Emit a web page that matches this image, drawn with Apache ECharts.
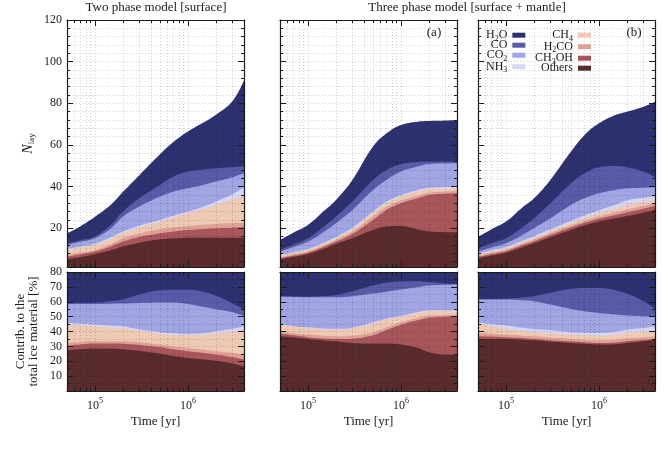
<!DOCTYPE html>
<html>
<head>
<meta charset="utf-8">
<title>Ice layers</title>
<script src="https://cdn.jsdelivr.net/npm/echarts@6/dist/echarts.min.js"></script>
<style>
  html, body { margin: 0; padding: 0; background: #fff; }
  #chart { width: 668px; height: 452px; }
</style>
</head>
<body>
<div id="chart"></div>
<script>
// time grid [yr]
var times = [5e4, 7e4, 1e5, 1.5e5, 2e5, 3e5, 5e5, 7e5, 1e6, 1.5e6, 2e6, 3e6, 4e6];
// stacking order, bottom to top
var species = ['Others', 'CH3OH', 'H2CO', 'CH4', 'NH3', 'CO2', 'CO', 'H2O'];
var speciesColors = ['#5a2b2d', '#a8565b', '#dea196', '#eec9b3', '#d4d6f2', '#a1a5e3', '#585ca8', '#2e3170'];

// N_lay, two phase model (rows follow `species`)
var nlayTwoPhase = [
  [5.1, 6.2, 7.5, 9.6, 11.2, 13.1, 14.7, 15.2, 15.5, 15.5, 15.5, 15.5, 15.5],
  [1.3, 1.3, 1.3, 1.8, 2.4, 2.7, 2.9, 3.3, 3.7, 4.2, 4.5, 4.8, 5.0],
  [0.8, 0.7, 0.8, 1.2, 1.6, 1.7, 1.9, 1.9, 1.9, 2.0, 2.1, 2.2, 2.2],
  [2.4, 2.6, 2.4, 2.4, 2.4, 2.8, 3.7, 4.8, 6.1, 7.7, 9.1, 11.3, 13.3],
  [0.5, 0.5, 0.6, 0.8, 0.8, 1.0, 0.8, 0.8, 0.8, 1.2, 1.6, 2.5, 3.7],
  [1.9, 2.2, 2.6, 4.3, 7.2, 9.1, 11.2, 11.6, 11.2, 10.3, 9.6, 8.2, 6.7],
  [0.8, 0.8, 0.8, 1.8, 2.4, 4.0, 5.6, 7.2, 8.0, 7.3, 6.4, 4.8, 3.2],
  [4.7, 6.7, 9.5, 9.6, 9.5, 11.1, 14.7, 16.7, 19.3, 22.8, 25.7, 31.7, 41.4]
];
// N_lay, three phase model (a)
var nlayThreeA = [
  [5.1, 6.3, 7.7, 10.3, 12.5, 15.2, 19.2, 20.8, 21.1, 19.5, 18.4, 18.1, 18.1],
  [0.5, 0.6, 0.6, 0.9, 1.1, 2.1, 4.8, 8.0, 10.9, 14.9, 17.6, 18.5, 18.7],
  [0.5, 0.5, 0.6, 0.6, 0.8, 1.0, 1.6, 1.4, 1.3, 1.2, 1.1, 1.1, 1.2],
  [0.6, 0.7, 0.7, 0.8, 0.8, 1.2, 1.6, 1.8, 1.9, 2.0, 1.6, 1.3, 1.2],
  [0.5, 0.5, 0.5, 0.6, 0.6, 0.7, 0.8, 0.8, 0.8, 0.7, 0.7, 0.8, 0.8],
  [1.6, 2.4, 3.5, 5.3, 6.6, 8.6, 10.4, 10.4, 11.2, 11.3, 11.5, 11.3, 11.2],
  [0.8, 1.2, 1.6, 2.5, 3.2, 4.0, 4.8, 4.8, 3.5, 2.2, 1.1, 0.9, 0.8],
  [4.8, 5.8, 6.4, 7.5, 8.0, 10.4, 16.0, 17.6, 18.9, 19.4, 19.5, 19.7, 20.0]
];
// N_lay, three phase model (b)
var nlayThreeB = [
  [5.6, 6.9, 8.3, 10.9, 12.8, 15.7, 19.2, 21.3, 23.2, 24.8, 25.9, 27.5, 28.8],
  [0.6, 0.7, 0.7, 0.9, 1.0, 1.1, 1.2, 1.3, 1.4, 1.6, 1.7, 1.9, 2.0],
  [0.6, 0.6, 0.7, 0.8, 0.8, 0.9, 1.0, 1.0, 1.2, 1.2, 1.4, 1.4, 1.5],
  [0.7, 0.8, 0.7, 0.7, 0.6, 0.7, 1.0, 1.3, 1.4, 1.8, 2.2, 1.8, 1.3],
  [0.4, 0.5, 0.6, 0.7, 1.0, 1.1, 1.2, 1.3, 1.5, 1.9, 2.2, 2.0, 1.9],
  [0.9, 1.3, 1.8, 2.8, 3.8, 5.3, 7.6, 8.2, 8.1, 7.1, 5.8, 4.9, 4.2],
  [1.6, 2.0, 2.4, 3.7, 4.8, 7.2, 10.4, 12.0, 12.5, 11.5, 10.1, 7.7, 4.8],
  [5.4, 6.7, 8.0, 9.5, 9.6, 11.2, 15.2, 18.4, 21.1, 24.5, 26.7, 31.2, 36.3]
];
// contribution to the total ice material [%]
var pctTwoPhase = [
  [27.5, 28, 28.5, 28.5, 28, 27, 25, 23.5, 22.2, 21.2, 20.3, 18.5, 16.6],
  [3.0, 3.3, 3.4, 3.4, 3.8, 4.0, 4.6, 4.5, 4.5, 4.3, 4.1, 4.3, 4.5],
  [2.0, 1.7, 1.5, 1.5, 1.6, 1.8, 1.6, 2.0, 2.2, 2.3, 2.3, 2.7, 3.3],
  [12.2, 11.0, 9.9, 9.1, 8.6, 7.7, 7.3, 7.5, 8.5, 10.0, 11.9, 14.3, 16.9],
  [1.1, 1.2, 1.4, 1.5, 1.5, 1.0, 1.0, 1.3, 1.0, 1.2, 1.6, 2.0, 2.2],
  [12.7, 13.3, 13.8, 14.7, 15.3, 17.7, 20.0, 20.7, 20.1, 17.5, 14.8, 11.2, 7.0],
  [0.8, 0.8, 1.0, 1.8, 2.7, 5.6, 8.2, 8.5, 9.5, 10.0, 9.0, 6.0, 4.2],
  [40.7, 40.7, 40.5, 39.5, 38.5, 35.2, 32.3, 32.0, 32.0, 33.5, 36.0, 41.0, 45.3]
];
var pctThreeA = [
  [36.8, 36, 35, 34, 33.4, 32.3, 31.9, 31.9, 31.2, 29, 26, 24.4, 24.4],
  [1.8, 1.4, 1.2, 1.3, 1.6, 2.9, 5.6, 9.1, 13.3, 18.5, 23.3, 25.6, 25.8],
  [1.6, 1.4, 1.7, 1.9, 1.8, 2.0, 2.0, 1.8, 1.7, 1.5, 1.4, 1.1, 1.2],
  [4.4, 4.4, 4.5, 4.3, 4.5, 4.8, 5.7, 5.2, 3.6, 3.3, 2.9, 2.7, 2.4],
  [0.4, 0.4, 0.4, 0.5, 0.5, 0.6, 1.0, 0.8, 0.8, 0.7, 0.7, 0.5, 0.5],
  [18.3, 19.6, 20.2, 21.0, 21.2, 21.1, 19.3, 18.0, 17.6, 16.7, 16.6, 17.1, 17.3],
  [0.4, 0.3, 0.4, 0.8, 1.6, 3.4, 5.4, 5.9, 5.6, 4.1, 2.3, 0.9, 0.4],
  [36.3, 36.5, 36.6, 36.2, 35.4, 32.9, 29.1, 27.3, 26.2, 26.2, 26.8, 27.7, 28.4]
];
var pctThreeB = [
  [35, 35, 35, 34.5, 34.1, 33.3, 32.3, 31.8, 31.2, 31.5, 32.3, 33.5, 34.6],
  [1.8, 1.6, 1.2, 1.1, 0.9, 0.9, 1.1, 1.0, 1.1, 1.1, 1.2, 0.8, 0.4],
  [2.2, 1.9, 1.7, 1.6, 1.8, 1.8, 1.6, 1.7, 1.8, 1.9, 1.8, 1.7, 1.8],
  [6.8, 5.0, 3.8, 3.1, 2.7, 2.7, 2.9, 3.0, 3.1, 3.3, 3.7, 3.6, 3.4],
  [0.4, 1.5, 2.3, 2.2, 2.2, 2.3, 1.6, 1.7, 1.8, 2.0, 2.3, 2.8, 3.3],
  [15.3, 16.5, 17.5, 18.5, 18.7, 17.1, 15.7, 14.4, 13.5, 11.6, 9.4, 7.8, 6.3],
  [0.4, 0.4, 0.5, 1.8, 3.3, 7.9, 13.5, 15.7, 16.8, 16.4, 14.8, 10.2, 5.4],
  [38.1, 38.1, 38.0, 37.2, 36.3, 34.0, 31.3, 30.7, 30.7, 32.2, 34.5, 39.6, 44.8]
];

// tick positions
var xMinorTicks = [6e4, 7e4, 8e4, 9e4, 1e5, 2e5, 3e5, 4e5, 5e5, 6e5, 7e5, 8e5, 9e5, 1e6, 2e6, 3e6];
var xMajorTicks = [1e5, 1e6];
var nlayMinorTicks = [4, 8, 12, 16, 20, 24, 28, 32, 36, 40, 44, 48, 52, 56, 60, 64, 68, 72, 76, 80, 84, 88, 92, 96, 100, 104, 108, 112, 116];
var nlayMajorTicks = [20, 40, 60, 80, 100];
var nlayLabels = [20, 40, 60, 80, 100, 120];
var pctMinorTicks = [5, 10, 15, 20, 25, 30, 35, 40, 45, 50, 55, 60, 65, 70, 75];
var pctMajorTicks = [10, 20, 30, 40, 50, 60, 70];
var pctLabels = [10, 20, 30, 40, 50, 60, 70, 80];

var FONT = "'Liberation Serif', 'Times New Roman', serif";
var INK = '#1a1a1a';
var GRIDLINE = 'rgba(0,0,0,0.22)';
var log10 = function (v) { return Math.log10(v); };

var panelData = [nlayTwoPhase, nlayThreeA, nlayThreeB, pctTwoPhase, pctThreeA, pctThreeB];
var colLeft = [67, 280, 478];
var panelWidth = 177;
var rowTop = [20, 272];
var rowHeight = [247, 119];

var grids = [], xAxes = [], yAxes = [], series = [];

function xAxisDef(gi, pos, ticks, len, opts) {
  var a = {
    type: 'value', gridIndex: gi, position: pos,
    min: log10(5e4), max: log10(4e6), z: 4,
    axisLine: { show: opts.line, onZero: false, lineStyle: { color: INK, width: 1.2 } },
    axisTick: { show: true, inside: true, length: len, customValues: ticks.map(log10),
                lineStyle: { color: INK, width: 1 } },
    axisLabel: { show: false },
    splitLine: { show: false }
  };
  if (opts.split) {
    a.splitLine = { show: true, lineStyle: { color: GRIDLINE, width: 0.8, type: [1, 2] } };
  }
  if (opts.labels) {
    a.axisLabel = {
      show: true, margin: 6, customValues: xMajorTicks.map(log10),
      formatter: function (v) { return '{b|10}{p|' + Math.round(v) + '}'; },
      rich: {
        b: { fontFamily: FONT, fontSize: 12, color: INK },
        p: { fontFamily: FONT, fontSize: 8, color: INK, padding: [0, 0, 9, 0] }
      }
    };
    a.name = 'Time [yr]';
    a.nameLocation = 'middle';
    a.nameGap = 24;
    a.nameTextStyle = { fontFamily: FONT, fontSize: 13, color: INK };
  }
  return a;
}

function yAxisDef(gi, pos, r, ticks, len, opts) {
  var a = {
    type: 'value', gridIndex: gi, position: pos,
    min: r === 0 ? 1.4 : 0, max: r === 0 ? 120 : 80, z: 4,
    axisLine: { show: opts.line, onZero: false, lineStyle: { color: INK, width: 1.2 } },
    axisTick: { show: true, inside: true, length: len, customValues: ticks,
                lineStyle: { color: INK, width: 1 } },
    axisLabel: { show: false },
    splitLine: { show: false }
  };
  if (opts.split) {
    a.splitLine = { show: true, lineStyle: { color: GRIDLINE, width: 0.8, type: [1, 2] } };
  }
  if (opts.labels) {
    a.axisLabel = {
      show: true, margin: 5, customValues: r === 0 ? nlayLabels : pctLabels,
      fontFamily: FONT, fontSize: 12, color: INK
    };
    a.nameLocation = 'middle';
    a.nameRotate = 90;
    if (r === 0) {
      a.name = '{i|N}{s|lay}';
      a.nameGap = 31;
      a.nameTextStyle = {
        rich: {
          i: { fontFamily: FONT, fontSize: 14, fontStyle: 'italic', color: INK },
          s: { fontFamily: FONT, fontSize: 9, color: INK, padding: [7, 0, 0, 0] }
        }
      };
    } else {
      a.name = 'Contrib. to the\ntotal ice material [%]';
      a.nameGap = 27;
      a.nameTextStyle = { fontFamily: FONT, fontSize: 13, lineHeight: 13, color: INK };
    }
  }
  return a;
}

for (var i = 0; i < 6; i++) {
  var r = Math.floor(i / 3), c = i % 3;
  var rect = { left: colLeft[c], top: rowTop[r], width: panelWidth, height: rowHeight[r] };
  grids[i] = rect;
  grids[6 + i] = { left: rect.left, top: rect.top, width: rect.width, height: rect.height };

  var minorY = r === 0 ? nlayMinorTicks : pctMinorTicks;
  var majorY = r === 0 ? nlayMajorTicks : pctMajorTicks;

  // frame + minor ticks + grid lines
  xAxes[2 * i] = xAxisDef(i, 'bottom', xMinorTicks, 3, { line: true, split: true, labels: r === 1 });
  xAxes[2 * i + 1] = xAxisDef(i, 'top', xMinorTicks, 3, { line: true });
  yAxes[2 * i] = yAxisDef(i, 'left', r, minorY, 3, { line: true, split: true, labels: c === 0 });
  yAxes[2 * i + 1] = yAxisDef(i, 'right', r, minorY, 3, { line: true });
  // longer major ticks on the overlay grid
  xAxes[12 + 2 * i] = xAxisDef(6 + i, 'bottom', xMajorTicks, 6, { line: false });
  xAxes[13 + 2 * i] = xAxisDef(6 + i, 'top', xMajorTicks, 6, { line: false });
  yAxes[12 + 2 * i] = yAxisDef(6 + i, 'left', r, majorY, 6, { line: false });
  yAxes[13 + 2 * i] = yAxisDef(6 + i, 'right', r, majorY, 6, { line: false });

  // running sums so each band's top edge is known; draw the tallest first
  var tops = [];
  panelData[i].forEach(function (row, k) {
    tops[k] = row.map(function (v, j) { return v + (k > 0 ? tops[k - 1][j] : 0); });
  });
  for (var k = species.length - 1; k >= 0; k--) {
    series.push({
      name: species[k], type: 'line',
      xAxisIndex: 2 * i, yAxisIndex: 2 * i,
      smooth: 0.4, symbol: 'none', silent: true,
      lineStyle: { width: 0 },
      itemStyle: { color: speciesColors[k] },
      areaStyle: { color: speciesColors[k], opacity: 1, origin: 'start' },
      emphasis: { disabled: true },
      data: times.map(function (t, j) { return [log10(t), tops[k][j]]; })
    });
  }
}

var legendLabels = {
  H2O: '{t|H}{s|2}{t|O}', CO: '{t|CO}', CO2: '{t|CO}{s|2}', NH3: '{t|NH}{s|3}',
  CH4: '{t|CH}{s|4}', H2CO: '{t|H}{s|2}{t|CO}', CH3OH: '{t|CH}{s|3}{t|OH}', Others: '{t|Others}'
};
function legendDef(names, left) {
  return {
    orient: 'vertical', left: left, top: 27.7, align: 'right', padding: 0,
    icon: 'rect', itemWidth: 13, itemHeight: 5, itemGap: -3.5,
    selectedMode: false, data: names,
    formatter: function (n) { return legendLabels[n]; },
    textStyle: {
      rich: {
        t: { fontFamily: FONT, fontSize: 12, color: INK, lineHeight: 10 },
        s: { fontFamily: FONT, fontSize: 8, color: INK, lineHeight: 10, padding: [7, 0, 0, 0] }
      }
    }
  };
}

function label(text, x, y) {
  return { type: 'text', x: x, y: y, z: 10,
           style: { text: text, font: '13px ' + FONT, fill: INK, align: 'center', verticalAlign: 'middle' } };
}

var chart = echarts.init(document.getElementById('chart'));
chart.setOption({
  animation: false,
  backgroundColor: '#fff',
  grid: grids,
  xAxis: xAxes,
  yAxis: yAxes,
  legend: [
    legendDef(['H2O', 'CO', 'CO2', 'NH3'], 486),
    legendDef(['CH4', 'H2CO', 'CH3OH', 'Others'], 535)
  ],
  graphic: [
    label('Two phase model [surface]', 156, 8),
    label('Three phase model [surface + mantle]', 467, 8),
    label('(a)', 434, 33),
    label('(b)', 634, 33)
  ],
  series: series
});
</script>
</body>
</html>
